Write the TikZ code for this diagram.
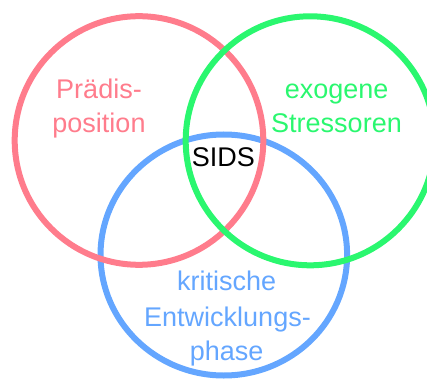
\documentclass[tikz,border=0pt]{standalone}
\usepackage{fontspec}
\setmainfont{Liberation Sans}
\definecolor{cred}{RGB}{255,124,140}
\definecolor{cgreen}{RGB}{42,247,111}
\definecolor{cblue}{RGB}{100,166,255}
\begin{document}
\begin{tikzpicture}[x=1pt,y=1pt,
  ring/.style={line width=6pt},
  lbl/.style={anchor=base,inner sep=0pt,font=\fontsize{27}{34}\selectfont}]
\useasboundingbox (0,0) rectangle (427,380);
\draw[ring,cblue] (223.8,125) ellipse [x radius=123.3,y radius=120.5];
\draw[ring,cred] (139,239.5) circle [radius=124.3];
\draw[ring,cgreen] (310.2,239.2) circle [radius=124.5];
\node[lbl,text=cred] (p1) at (99,281) {Prädis-};
\node[lbl,text=cred] (p2) at (99,247) {position};
\node[lbl,text=cgreen] (e1) at (336.7,281) {exogene};
\node[lbl,text=cgreen] (e2) at (336.5,247) {Stressoren};
\node[lbl,text=black] (s) at (223.3,213.3) {SIDS};
\node[lbl,text=cblue] (k1) at (226.7,90) {kritische};
\node[lbl,text=cblue] (k2) at (227.5,54) {Entwicklungs-};
\node[lbl,text=cblue] (k3) at (226.7,20) {phase};
\end{tikzpicture}
\end{document}
